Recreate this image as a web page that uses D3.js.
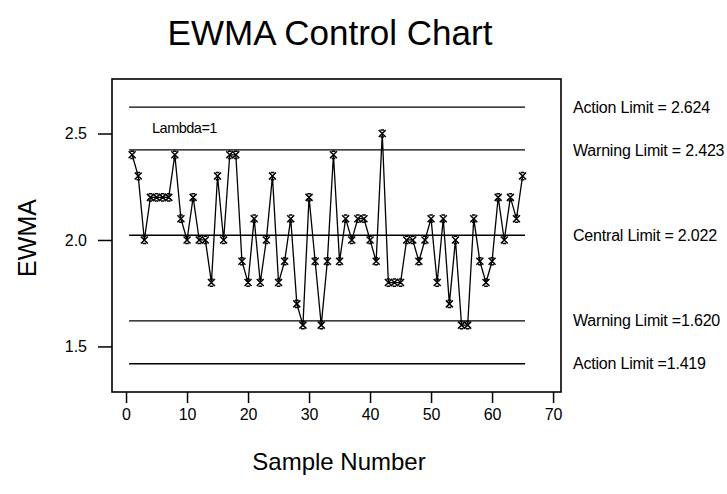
<!DOCTYPE html>
<html>
<head>
<meta charset="utf-8">
<script src="https://cdn.jsdelivr.net/npm/d3@7"></script>
<style>
body { margin: 0; background: #fff; }
svg text { font-family: "Liberation Sans", Arial, sans-serif; fill: #000; }
</style>
</head>
<body>
<div id="chart"></div>
<script>
width = 727
height = 494

// EWMA values (lambda = 1) for samples 1..65
var ewma = [2.4, 2.3, 2.0, 2.2, 2.2, 2.2, 2.2, 2.4, 2.1, 2.0,
            2.2, 2.0, 2.0, 1.8, 2.3, 2.0, 2.4, 2.4, 1.9, 1.8,
            2.1, 1.8, 2.0, 2.3, 1.8, 1.9, 2.1, 1.7, 1.6, 2.2,
            1.9, 1.6, 1.9, 2.4, 1.9, 2.1, 2.0, 2.1, 2.1, 2.0,
            1.9, 2.5, 1.8, 1.8, 1.8, 2.0, 2.0, 1.9, 2.0, 2.1,
            1.8, 2.1, 1.7, 2.0, 1.6, 1.6, 2.1, 1.9, 1.8, 1.9,
            2.2, 2.0, 2.2, 2.1, 2.3]
var samples = ewma.map((v, i) => i + 1)

var limitValues = [2.624, 2.423, 2.022, 1.620, 1.419]
var limitLabels = ["Action Limit = 2.624", "Warning Limit = 2.423", "Central Limit = 2.022",
                   "Warning Limit =1.620", "Action Limit =1.419"]

var xTicks = [0, 10, 20, 30, 40, 50, 60, 70]
var yTicks = [1.5, 2.0, 2.5]

var plot = {left: 112, right: 561, top: 79, bottom: 392}

var x = d3.scaleLinear().domain([-2.3, 71.3]).range([plot.left, plot.right])
var y = d3.scaleLinear().domain([1.286, 2.756]).range([plot.bottom, plot.top])

let svg = d3.select("#chart")
    .append("svg")
    .attr("width", width)
    .attr("height", height)

// frame
svg.append("rect")
    .attr("x", plot.left).attr("y", plot.top)
    .attr("width", plot.right - plot.left)
    .attr("height", plot.bottom - plot.top)
    .attr("fill", "none").attr("stroke", "#000").attr("stroke-width", 1.6)

// axes
var xAxis = svg.append("g")
    .attr("transform", `translate(0, ${plot.bottom})`)
    .call(d3.axisBottom(x).tickValues(xTicks).tickSize(11).tickPadding(6).tickFormat(d3.format("d")))
var yAxis = svg.append("g")
    .attr("transform", `translate(${plot.left}, 0)`)
    .call(d3.axisLeft(y).tickValues(yTicks).tickSize(14).tickPadding(11).tickFormat(d3.format(".1f")))

for (ax of [xAxis, yAxis]) {
    ax.select(".domain").remove()
    ax.selectAll(".tick line").attr("stroke", "#000").attr("stroke-width", 1.5)
    ax.selectAll(".tick text")
        .style("font-family", "'Liberation Sans', Arial, sans-serif")
        .style("font-size", "16px")
        .attr("fill", "#000")
}

// limit lines + labels
svg.selectAll(".limit")
    .data(limitValues)
  .enter().append("line")
    .attr("x1", x(0.5)).attr("x2", x(65.4))
    .attr("y1", d => y(d)).attr("y2", d => y(d))
    .attr("stroke", "#000").attr("stroke-width", 1.4)

svg.selectAll(".limit-label")
    .data(limitValues)
  .enter().append("text")
    .attr("x", 573)
    .attr("y", d => y(d))
    .attr("dy", "0.35em")
    .style("font-size", "16px")
    .style("letter-spacing", "-0.2px")
    .text((d, i) => limitLabels[i])

// data line
var line = d3.line().x((d, i) => x(samples[i])).y(d => y(d))
svg.append("path")
    .datum(ewma)
    .attr("d", line)
    .attr("fill", "none").attr("stroke", "#000").attr("stroke-width", 1.3)

// x markers
var mark = "M-3.5,-3.5L3.5,3.5M-3.5,3.5L3.5,-3.5M-1.8,-3.6H1.8M-1.8,3.6H1.8"
svg.selectAll(".pt")
    .data(ewma)
  .enter().append("path")
    .attr("transform", (d, i) => `translate(${x(samples[i])}, ${y(d)})`)
    .attr("d", mark)
    .attr("fill", "none").attr("stroke", "#000").attr("stroke-width", 1.5)

svg.append("text")
    .attr("x", 152).attr("y", 133)
    .style("font-size", "14.5px")
    .style("letter-spacing", "-0.5px")
    .text("Lambda=1")

// titles
svg.append("text")
    .attr("x", 330).attr("y", 45)
    .attr("text-anchor", "middle")
    .style("font-size", "35px")
    .text("EWMA Control Chart")

svg.append("text")
    .attr("x", 339).attr("y", 470)
    .attr("text-anchor", "middle")
    .style("font-size", "24px")
    .text("Sample Number")

svg.append("text")
    .attr("transform", "translate(36, 238) rotate(-90)")
    .attr("text-anchor", "middle")
    .style("font-size", "25px")
    .text("EWMA")
</script>
</body>
</html>
